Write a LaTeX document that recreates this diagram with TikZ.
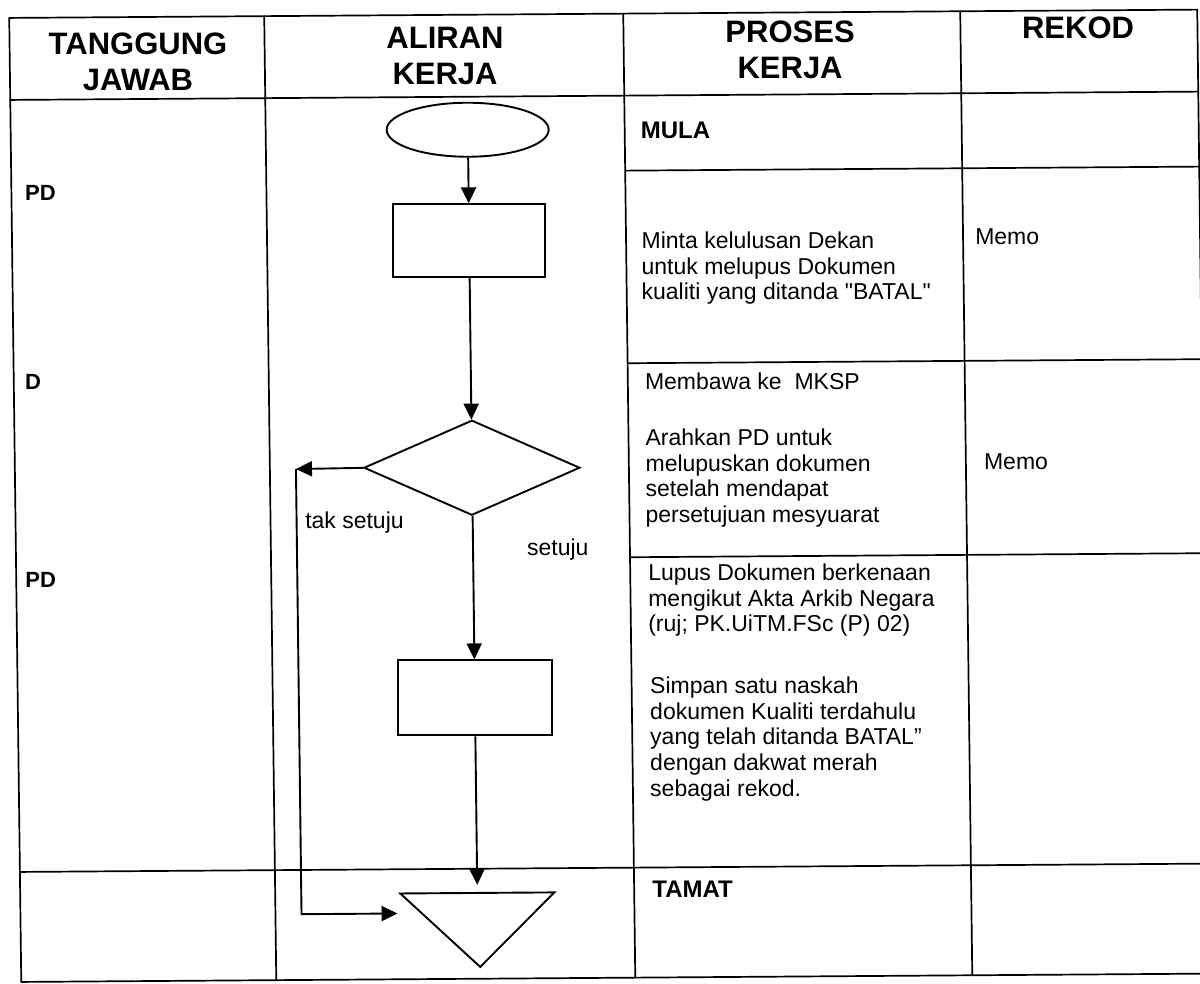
\documentclass[tikz,border=0pt]{standalone}
\usepackage{fontspec}
\setmainfont{Liberation Sans}
\newfontfamily\plainq{Liberation Sans}[Ligatures=TeXOff]
\usetikzlibrary{arrows.meta,shapes.geometric}
\begin{document}
\begin{tikzpicture}[x=1pt,y=-1pt,
  grid/.style={line width=1.7pt, line cap=round},
  flow/.style={draw, line width=1.9pt},
  arr/.style={line width=1.9pt, -{Triangle[length=16pt,width=15pt]}},
  hdr/.style={font=\fontsize{31}{36}\selectfont\bfseries, align=center, inner sep=0pt},
  lbl/.style={font=\fontsize{22}{26}\selectfont\bfseries, anchor=west, inner sep=0pt},
  ttl/.style={font=\fontsize{24}{26}\selectfont\bfseries, anchor=west, inner sep=0pt},
  txt/.style={font=\fontsize{23}{25.8}\selectfont, anchor=west, inner sep=0pt},
  blk/.style={font=\fontsize{23}{25.8}\selectfont, align=left, anchor=north west, inner sep=0pt},
]
\fill[white] (0,0) rectangle (1200,984);
\useasboundingbox (0,0) rectangle (1200,984);
\begin{scope}[cm={1,0.007,-0.0125,1,(0,0)}]
% table grid
\draw[grid] (9,18) -- (1197,18);
\draw[grid] (9,100) -- (1197,100);
\draw[grid] (623,175) -- (1197,175);
\draw[grid] (623,367.6) -- (1197,367.6);
\draw[grid] (623,561.6) -- (1197,561.6);
\draw[grid] (9,872) -- (1197,872);
\draw[grid] (9,982) -- (1197,982);
\draw[grid] (9,18) -- (9,982);
\draw[grid] (264,18) -- (264,982);
\draw[grid] (623,18) -- (623,982);
\draw[grid] (960,18) -- (960,982);
\draw[grid] (1197,18) -- (1197,982);
% headers
\node[hdr] (h1) at (137.2,63) {TANGGUNG\\JAWAB};
\node[hdr] (h2) at (444.3,59) {ALIRAN\\KERJA};
\node[hdr] (h3) at (789.4,55.5) {PROSES\\KERJA};
\node[hdr] (h4) at (1077.6,35.5) {REKOD};
% responsibility
\node[lbl] (pd1) at (22.6,193.2) {PD};
\node[lbl] (d1) at (20.2,382.2) {D};
\node[lbl] (pd2) at (18,580.2) {PD};
% process texts
\node[ttl] (mula) at (639,134.5) {MULA};
\node[blk] (p1) at (638.5,236) {Minta kelulusan Dekan\\untuk melupus Dokumen\\kualiti yang ditanda {\plainq"}BATAL{\plainq"}};
\node[txt] (p2) at (640,385.5) {Membawa ke~ MKSP};
\node[blk] (p3) at (640,433) {Arahkan PD untuk\\melupuskan dokumen\\setelah mendapat\\persetujuan mesyuarat};
\node[blk] (p4) at (641,568) {Lupus Dokumen berkenaan\\mengikut Akta Arkib Negara\\(ruj; PK.UiTM.FSc (P) 02)};
\node[blk] (p5) at (641.5,681) {Simpan satu naskah\\dokumen Kualiti terdahulu\\yang telah ditanda BATAL”\\dengan dakwat merah\\sebagai rekod.};
\node[ttl] (tamat) at (641,893.5) {TAMAT};
% records
\node[txt] (m1) at (972,243.8) {Memo};
\node[txt] (m2) at (978,468.9) {Memo};
% flow chart
\node[ellipse, flow, minimum width=162pt, minimum height=54pt, inner sep=0pt] (start) at (466,133) {};
\node[rectangle, flow, minimum width=152pt, minimum height=73pt, inner sep=0pt] (r1) at (466,244) {};
\node[diamond, flow, minimum width=216pt, minimum height=95pt, inner sep=0pt] (dec) at (466,471) {};
\node[rectangle, flow, minimum width=154pt, minimum height=75pt, inner sep=0pt] (r2) at (466,701) {};
\coordinate (tl) at (389,896);
\coordinate (tr) at (543,896);
\coordinate (tb) at (468,970);
\draw[flow, line join=miter] (tl) -- (tr) -- (tb) -- cycle;
\coordinate (tipin) at (466,888);
\coordinate (lc) at (290,471);
\coordinate (lend) at (386,916);
\draw[arr] (start) -- (r1);
\draw[arr] (r1) -- (dec);
\draw[arr] (dec) -- (r2);
\draw[arr] (r2) -- (tipin);
\draw[arr] (dec.west) -- (lc);
\draw[arr] (lc) |- (lend);
\node[txt] (no) at (298.5,525) {tak setuju};
\node[txt] (yes) at (520,552.7) {setuju};
\end{scope}
\end{tikzpicture}
\end{document}
